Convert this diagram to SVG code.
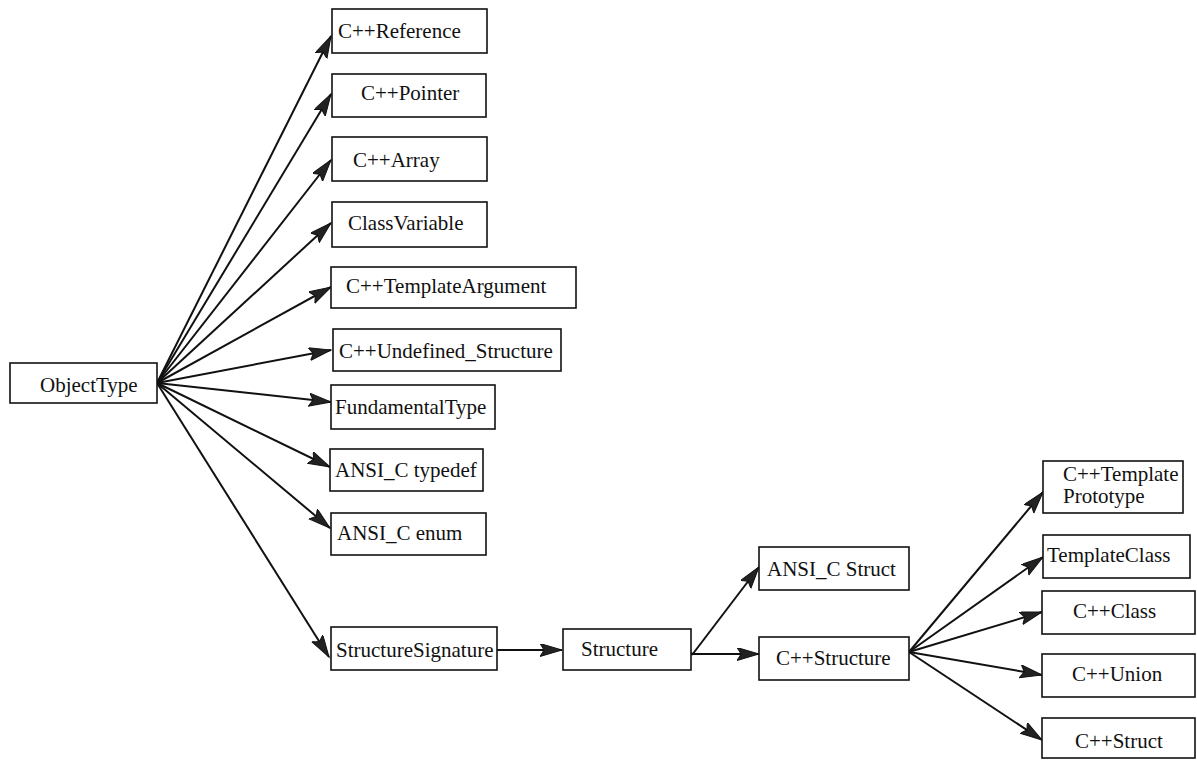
<svg xmlns="http://www.w3.org/2000/svg" width="1197" height="760" viewBox="0 0 1197 760">
<style>
.box{fill:#fff;stroke:#111;stroke-width:1.6}
.t{font-family:'Liberation Serif','DejaVu Serif',serif;font-size:21px;fill:#111}
.c{stroke:#111;stroke-width:2;fill:none;marker-end:url(#ah)}
</style>
<defs>
<marker id="ah" markerUnits="userSpaceOnUse" markerWidth="24" markerHeight="14" refX="22" refY="6.5" orient="auto">
<path d="M0,0 L22,6.5 L0,13 L4,6.5 z" fill="#222" stroke="#111" stroke-width="1"/>
</marker>
</defs>
<rect width="1197" height="760" fill="#fff"/>
<g id="connectors">
<line class="c" x1="157" y1="383" x2="331" y2="36"/>
<line class="c" x1="157" y1="383" x2="331" y2="94"/>
<line class="c" x1="157" y1="383" x2="331" y2="160"/>
<line class="c" x1="157" y1="383" x2="331" y2="223"/>
<line class="c" x1="157" y1="383" x2="331" y2="287"/>
<line class="c" x1="157" y1="383" x2="331" y2="350"/>
<line class="c" x1="157" y1="383" x2="331" y2="402"/>
<line class="c" x1="157" y1="383" x2="330" y2="467"/>
<line class="c" x1="157" y1="383" x2="330" y2="528"/>
<line class="c" x1="157" y1="383" x2="329" y2="657"/>
<line class="c" x1="497" y1="650" x2="562" y2="650"/>
<line stroke="#111" stroke-width="2" x1="691" y1="652" x2="692" y2="655"/>
<line class="c" x1="692" y1="655" x2="759" y2="567"/>
<line class="c" x1="692" y1="654" x2="759" y2="654"/>
<line class="c" x1="909" y1="652" x2="1043" y2="492"/>
<line class="c" x1="909" y1="652" x2="1043" y2="557"/>
<line class="c" x1="909" y1="652" x2="1042" y2="612"/>
<line class="c" x1="909" y1="652" x2="1042" y2="675"/>
<line class="c" x1="909" y1="652" x2="1042" y2="740"/>
</g>
<g id="ObjectType"><rect class="box" x="10" y="363" width="147" height="40"/><text class="t" x="40" y="392">ObjectType</text></g>
<g id="CppReference"><rect class="box" x="332" y="9" width="155" height="44"/><text class="t" x="338" y="38">C++Reference</text></g>
<g id="CppPointer"><rect class="box" x="332" y="74" width="154" height="43"/><text class="t" x="361" y="100">C++Pointer</text></g>
<g id="CppArray"><rect class="box" x="332" y="137" width="155" height="44"/><text class="t" x="353" y="167">C++Array</text></g>
<g id="ClassVariable"><rect class="box" x="332" y="202" width="155" height="45"/><text class="t" x="348" y="230">ClassVariable</text></g>
<g id="CppTemplateArgument"><rect class="box" x="331" y="267" width="245" height="41"/><text class="t" x="346" y="293">C++TemplateArgument</text></g>
<g id="CppUndefinedStructure"><rect class="box" x="333" y="329" width="228" height="42"/><text class="t" x="339" y="358">C++Undefined_Structure</text></g>
<g id="FundamentalType"><rect class="box" x="331" y="385" width="164" height="44"/><text class="t" x="335" y="414">FundamentalType</text></g>
<g id="ANSICtypedef"><rect class="box" x="330" y="449" width="153" height="42"/><text class="t" x="335" y="477">ANSI_C typedef</text></g>
<g id="ANSICenum"><rect class="box" x="331" y="513" width="155" height="42"/><text class="t" x="337" y="540">ANSI_C enum</text></g>
<g id="StructureSignature"><rect class="box" x="331" y="627" width="166" height="43"/><text class="t" x="336" y="657">StructureSignature</text></g>
<g id="Structure"><rect class="box" x="563" y="629" width="128" height="41"/><text class="t" x="581" y="656">Structure</text></g>
<g id="ANSICStruct"><rect class="box" x="759" y="547" width="150" height="43"/><text class="t" x="767" y="576">ANSI_C Struct</text></g>
<g id="CppStructure"><rect class="box" x="759" y="637" width="150" height="43"/><text class="t" x="776" y="665">C++Structure</text></g>
<g id="CppTemplatePrototype"><rect class="box" x="1043" y="461" width="140" height="52"/><text class="t" x="1063" y="481">C++Template</text><text class="t" x="1063" y="503">Prototype</text></g>
<g id="TemplateClass"><rect class="box" x="1043" y="535" width="147" height="43"/><text class="t" x="1047" y="562">TemplateClass</text></g>
<g id="CppClass"><rect class="box" x="1042" y="591" width="153" height="43"/><text class="t" x="1073" y="618">C++Class</text></g>
<g id="CppUnion"><rect class="box" x="1042" y="654" width="153" height="43"/><text class="t" x="1072" y="681">C++Union</text></g>
<g id="CppStruct"><rect class="box" x="1042" y="718" width="153" height="40"/><text class="t" x="1075" y="748">C++Struct</text></g>
</svg>
